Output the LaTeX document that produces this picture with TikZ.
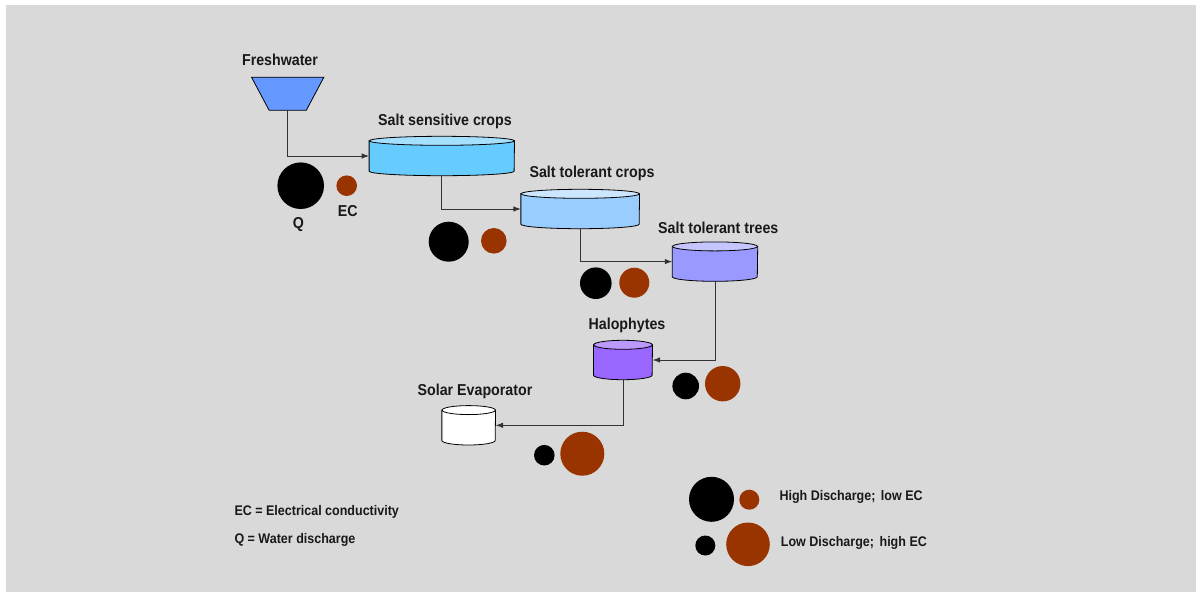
\documentclass[tikz,border=0pt]{standalone}
\usepackage{fontspec}
\setmainfont{Liberation Sans}[FakeStretch=0.9]
\usetikzlibrary{arrows.meta}

\definecolor{bggray}{HTML}{D9D9D9}
\definecolor{freshblue}{HTML}{6699FF}
\definecolor{ecbrown}{HTML}{993300}
\definecolor{sensside}{HTML}{66CCFF}
\definecolor{senstop}{HTML}{A6E0FF}
\definecolor{tolside}{HTML}{99CCFF}
\definecolor{toltop}{HTML}{CCE6FF}
\definecolor{treeside}{HTML}{9999FF}
\definecolor{treetop}{HTML}{C6C6FF}
\definecolor{haloside}{HTML}{9966FF}
\definecolor{halotop}{HTML}{BB99FF}

% tank: name, x, y, width, side colour, top colour
\newcommand{\tank}[6]{%
  \node[tankframe, minimum width=#4pt] (#1) at (#2,#3) {};
  \draw[tankline, fill=#5] (#1.north west) -- (#1.south west)
    arc[start angle=180, end angle=360, x radius=#4/2*1pt, y radius=4.5pt]
    -- (#1.north east) -- cycle;
  \draw[tankline, fill=#6] (#1.north) ellipse[x radius=#4/2*1pt, y radius=4.5pt];
}

\begin{document}
\begin{tikzpicture}[x=1pt,y=-1pt,
    tankframe/.style={draw=none,inner sep=0,minimum height=30pt,rectangle},
    tankline/.style={draw=black,line width=0.8pt},
    flow/.style={draw=black!80,line width=1pt,-{Latex[length=7.5pt,width=5.5pt]}},
    lbl/.style={font=\bfseries\fontsize{15.8}{18}\selectfont,text=black!90,anchor=base,inner sep=0},
    key/.style={font=\bfseries\fontsize{13.9}{16}\selectfont,text=black!90,anchor=base west,inner sep=0},
    qdot/.style={circle,fill=black,inner sep=0},
    ecdot/.style={circle,fill=ecbrown,inner sep=0}]
  \useasboundingbox (0,0) rectangle (1196,592);
  \fill[bggray] (6,5) rectangle (1196,592);

  % freshwater source
  \node[draw=none,inner sep=0,minimum width=72pt,minimum height=32.7pt] (fresh) at (287.7,93.7) {};
  \draw[tankline, fill=freshblue] (fresh.north west) -- (fresh.north east)
    -- ([xshift=-17.6pt]fresh.south east) -- ([xshift=17.6pt]fresh.south west) -- cycle;
  \node[lbl] (freshlbl) at (280,65.7) {Freshwater};

  % tanks
  \tank{sens}{441.8}{156}{145}{sensside}{senstop}
  \tank{tol}{580.2}{209}{118.3}{tolside}{toltop}
  \tank{trees}{715}{261.6}{85}{treeside}{treetop}
  \tank{halo}{623}{360}{58.6}{haloside}{halotop}
  \tank{solar}{468.7}{425.3}{53.3}{white}{white}

  \node[lbl] (senslbl) at (445,125) {Salt sensitive crops};
  \node[lbl] (tollbl) at (592,177.3) {Salt tolerant crops};
  \node[lbl] (treeslbl) at (718.3,233.3) {Salt tolerant trees};
  \node[lbl] (halolbl) at (627,329) {Halophytes};
  \node[lbl] (solarlbl) at (475,395) {Solar Evaporator};

  % drainage path
  \path[flow] (fresh.south) |- (sens.west);
  \path[flow] ([yshift=-4.5pt]sens.south) |- (tol.west);
  \path[flow] ([yshift=-4.5pt]tol.south) |- (trees.west);
  \path[flow] ([yshift=-4.5pt]trees.south) |- (halo.east);
  \path[flow] ([yshift=-4.5pt]halo.south) |- (solar.east);

  % discharge and salinity
  \node[qdot,minimum size=46.6pt] (q1) at (300.7,185.7) {};
  \node[ecdot,minimum size=20.6pt] (ec1) at (346.7,185.7) {};
  \node[lbl] (qlbl) at (298.3,228.5) {Q};
  \node[lbl] (eclbl) at (347.7,216.7) {EC};

  \node[qdot,minimum size=40pt] (q2) at (448.7,241.7) {};
  \node[ecdot,minimum size=25.6pt] (ec2) at (493.8,240.8) {};
  \node[qdot,minimum size=31.6pt] (q3) at (595.8,283.2) {};
  \node[ecdot,minimum size=30pt] (ec3) at (634.3,282.7) {};
  \node[qdot,minimum size=26.6pt] (q4) at (685.7,386) {};
  \node[ecdot,minimum size=35.4pt] (ec4) at (722.7,383.7) {};
  \node[qdot,minimum size=20.6pt] (q5) at (544.3,455.2) {};
  \node[ecdot,minimum size=44pt] (ec5) at (582.3,453.7) {};

  % key
  \node[key] (eckey) at (234.3,515.7) {EC = Electrical conductivity};
  \node[key] (qkey) at (234.3,543.3) {Q = Water discharge};

  \node[qdot,minimum size=45pt] (qhigh) at (711.5,499.3) {};
  \node[ecdot,minimum size=20pt] (eclow) at (749.3,499.7) {};
  \node[key] (highkey) at (779.3,500.7) {High Discharge;\hspace{0.4em}low EC};
  \node[qdot,minimum size=20pt] (qlow) at (705.3,545.5) {};
  \node[ecdot,minimum size=43.6pt] (echigh) at (748,544.3) {};
  \node[key] (lowkey) at (780.7,546) {Low Discharge;\hspace{0.4em}high EC};
\end{tikzpicture}
\end{document}
